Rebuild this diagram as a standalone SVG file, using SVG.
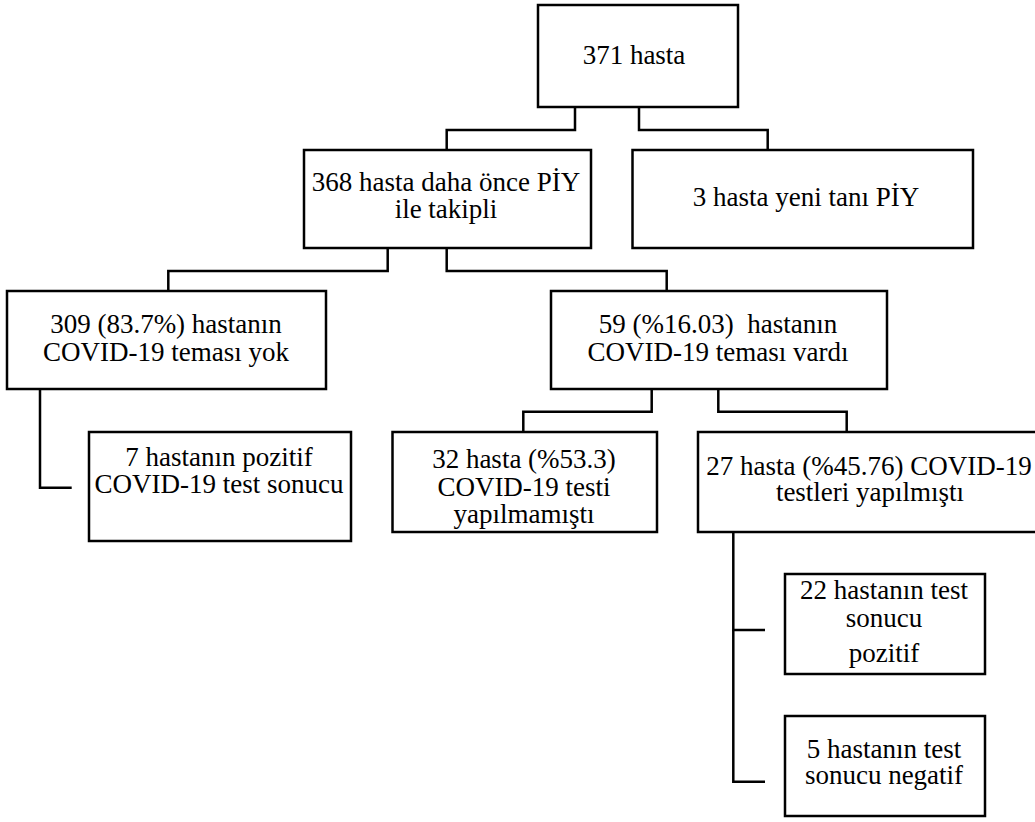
<svg xmlns="http://www.w3.org/2000/svg" width="1035" height="822" viewBox="0 0 1035 822">
<style>
rect.box { fill: #ffffff; stroke: #000000; stroke-width: 2.5; }
text { font-family: 'Liberation Serif', 'Times New Roman', Times, serif; font-size: 27px; fill: #000000; text-anchor: middle; }
.conn path { fill: none; stroke: #000000; stroke-width: 2.5; }
</style>
<rect width="1035" height="822" fill="#ffffff"/>
<g class="conn" id="connectors">
<path d="M575,107 V130 H446.7 V150"/>
<path d="M639,107 V130 H767.7 V150"/>
<path d="M387.7,248 V271 H168.3 V291"/>
<path d="M446.7,248 V271 H666.7 V291"/>
<path d="M40,389 V487.7 H71.7"/>
<path d="M651.7,389 V411.7 H523.3 V432"/>
<path d="M718.3,389 V411.7 H846.7 V432"/>
<path d="M733.3,532 V630 H765"/>
<path d="M733.3,630 V781.7 H765"/>
</g>
<g font-family="Liberation Serif, serif">
<g id="n1"><rect class="box" x="538" y="5" width="200" height="102"/><text x="634" y="64" font-size="28">371 hasta</text></g>
<g id="n2"><rect class="box" x="304" y="150" width="287" height="98"/><text x="446" y="191">368 hasta daha önce PİY</text><text x="446" y="218">ile takipli</text></g>
<g id="n3"><rect class="box" x="632.5" y="150" width="340.5" height="98"/><text x="806" y="206">3 hasta yeni tanı PİY</text></g>
<g id="n4"><rect class="box" x="7" y="291" width="319" height="98"/><text x="166" y="333.3">309 (83.7%) hastanın</text><text x="166" y="360.7">COVID-19 teması yok</text></g>
<g id="n5"><rect class="box" x="551" y="291" width="336" height="98"/><text x="718" y="333.3" xml:space="preserve">59 (%16.03)  hastanın</text><text x="718" y="360.7">COVID-19 teması vardı</text></g>
<g id="n6"><rect class="box" x="89" y="432" width="262" height="109"/><text x="219" y="466">7 hastanın pozitif</text><text x="219" y="492.7">COVID-19 test sonucu</text></g>
<g id="n7"><rect class="box" x="392.5" y="432" width="264.5" height="100"/><text x="524" y="468.3">32 hasta (%53.3)</text><text x="524" y="495.7">COVID-19 testi</text><text x="524" y="523">yapılmamıştı</text></g>
<g id="n8"><rect class="box" x="698" y="432" width="344" height="100"/><text x="869" y="475">27 hasta (%45.76) COVID-19</text><text x="870" y="501">testleri yapılmıştı</text></g>
<g id="n9"><rect class="box" x="785" y="574" width="200" height="100"/><text x="884" y="599">22 hastanın test</text><text x="884" y="626.7">sonucu</text><text x="884" y="662">pozitif</text></g>
<g id="n10"><rect class="box" x="785" y="716" width="200" height="100"/><text x="884" y="757.7">5 hastanın test</text><text x="884" y="784">sonucu negatif</text></g>
</g>
</svg>
